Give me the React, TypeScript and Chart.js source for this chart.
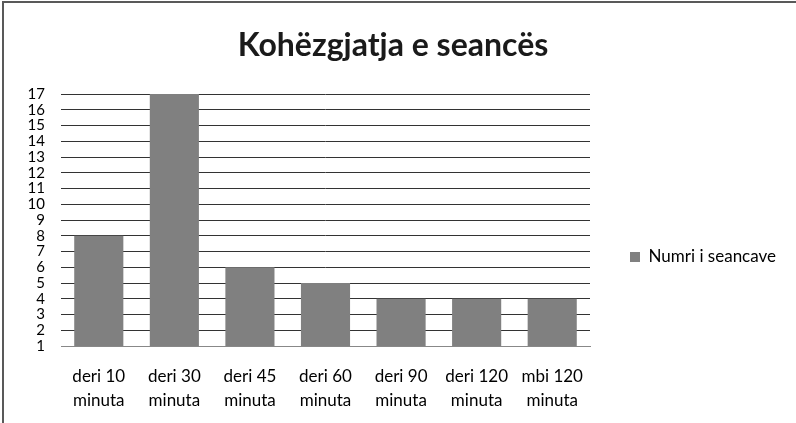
import React, { useEffect, useRef } from "react";
import { Chart, registerables } from "chart.js";

Chart.register(...registerables);

const categories: string[][] = [
  ["deri 10", "minuta"],
  ["deri 30", "minuta"],
  ["deri 45", "minuta"],
  ["deri 60", "minuta"],
  ["deri 90", "minuta"],
  ["deri 120", "minuta"],
  ["mbi 120", "minuta"],
];
const seriesLabel = "Numri i seancave";
const seriesValues: number[] = [8, 17, 6, 5, 4, 4, 4];
const yMin = 1;
const yMax = 17;
const yStep = 1;
const titleText = "Kohëzgjatja e seancës";

const FONT = "Lato, 'Open Sans', sans-serif";

const frame = {
  id: "frame",
  beforeDraw(chart: any) {
    const { ctx, width, height } = chart;
    ctx.save();
    ctx.fillStyle = "#ffffff";
    ctx.fillRect(0, 0, width, height);
    ctx.fillStyle = "#595959";
    ctx.fillRect(2, 1, width - 2, 2);
    ctx.fillRect(2, 1, 2, height - 1);
    ctx.restore();
  },
};

export default function App() {
  const ref = useRef<HTMLCanvasElement | null>(null);
  useEffect(() => {
    document.body.style.margin = "0";
    const legendFontSize = 17;
    const m = document.createElement("canvas").getContext("2d")!;
    m.font = `${legendFontSize}px ${FONT}`;
    const tw = m.measureText(seriesLabel).width;
    const legendPad = 40;
    const legendW = legendPad + 10 + legendFontSize / 2 + tw + 10;
    const padRight = Math.max(0, 796 - 590 - legendW);

    const chart = new Chart(ref.current!, {
      type: "bar",
      data: {
        labels: categories,
        datasets: [
          {
            label: seriesLabel,
            data: seriesValues,
            backgroundColor: "#808080",
            borderWidth: 0,
            categoryPercentage: 1,
            barPercentage: 0.65,
          },
        ],
      },
      options: {
        animation: false,
        responsive: false,
        maintainAspectRatio: false,
        layout: { padding: { left: 0, right: padRight, top: 0, bottom: 0 } },
        plugins: {
          tooltip: { enabled: false },
          title: {
            display: true,
            text: titleText,
            color: "#1a1a1a",
            font: { family: FONT, size: 32, weight: "bold", lineHeight: 1.2 },
            padding: { top: 26, bottom: 29.6 },
          },
          legend: {
            position: "right",
            align: "center",
            title: { display: true, text: "", padding: { top: 91, bottom: 0 }, font: { size: 1, lineHeight: 0 } },
            labels: {
              boxWidth: 10,
              boxHeight: 10,
              padding: legendPad,
              color: "#000",
              font: { family: FONT, size: legendFontSize },
            },
          },
        },
        scales: {
          x: {
            grid: { display: false },
            border: { display: true, color: "#888888", width: 1 },
            ticks: {
              color: "#000",
              padding: 11,
              maxRotation: 0,
              autoSkip: false,
              font: { family: FONT, size: 17, lineHeight: 1.41 },
            },
            afterFit(scale: any) {
              scale.height = 77;
            },
          },
          y: {
            min: yMin,
            max: yMax,
            border: { display: false },
            grid: {
              drawTicks: false,
              color: (c: any) => (c.tick && c.tick.value === yMin ? "#888888" : "#333333"),
              lineWidth: 1,
            },
            ticks: {
              stepSize: yStep,
              autoSkip: false,
              color: "#000",
              padding: 16,
              font: { family: FONT, size: 15, lineHeight: 1 },
            },
            afterFit(scale: any) {
              scale.width = 61;
            },
          },
        },
      },
      plugins: [frame],
    });
    return () => chart.destroy();
  }, []);
  return (
    <div style={{ position: "relative", width: 796, height: 423 }}>
      <canvas ref={ref} width={796} height={423} style={{ display: "block" }} />
    </div>
  );
}
